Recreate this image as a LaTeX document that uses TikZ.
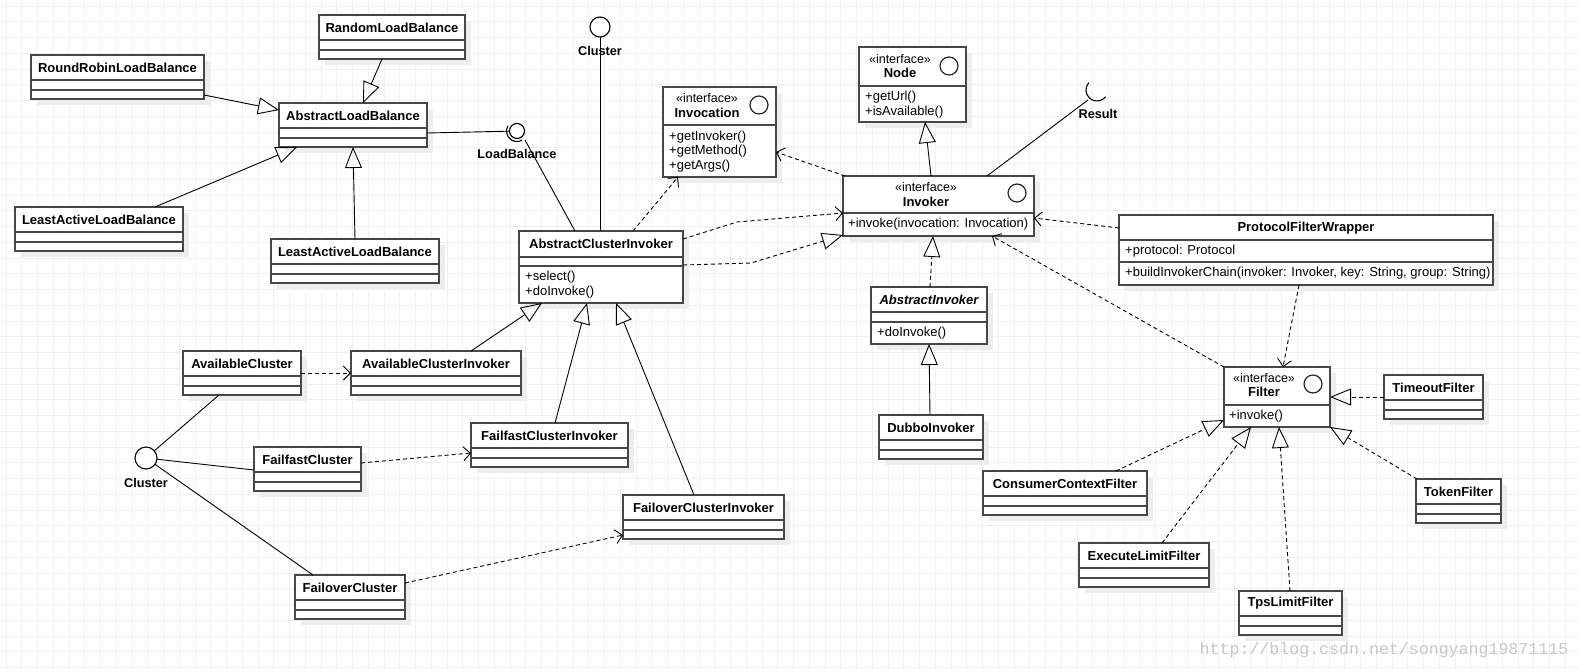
\documentclass[tikz,border=0pt]{standalone}
\usepackage{fontspec}
\setmainfont{Liberation Sans}
\newfontfamily\wmfont{Liberation Mono}
\usetikzlibrary{arrows.meta,calc,shadows}

\tikzset{
  cls/.style={rectangle, draw=black!72, line width=1.5pt, fill=white, inner sep=0pt, outer sep=0pt,
    drop shadow={shadow xshift=6pt, shadow yshift=-6pt, fill=black!7, opacity=1}},
  sep/.style={draw=black!72, line width=1.5pt},
  ttl/.style={font=\fontsize{13}{15}\selectfont\bfseries, inner sep=0pt},
  txt/.style={font=\fontsize{13}{15}\selectfont, inner sep=0pt, anchor=west},
  stereo/.style={font=\fontsize{12.5}{15}\selectfont, inner sep=0pt},
  gen/.style={draw=black, line width=0.9pt, -{Triangle[open, length=21pt, width=17pt, line width=0.9pt]}},
  real/.style={gen, dash pattern=on 4pt off 3pt},
  dep/.style={draw=black, line width=0.9pt, dash pattern=on 4pt off 3pt, -{Straight Barb[length=7pt, width=14pt, line width=0.9pt]}},
  assoc/.style={draw=black, line width=0.9pt},
  lolli/.style={circle, draw=black, line width=1.1pt, fill=white, inner sep=0pt, outer sep=0pt},
  icon/.style={circle, draw=black!85, line width=1.2pt, inner sep=0pt, minimum size=18pt},
  lbl/.style={font=\fontsize{12.7}{15}\selectfont\bfseries, inner sep=0pt},
  gridline/.style={draw=black!6, line width=0.7pt},
}

% simple class: name, x1, y1, x2, y2, title
\newcommand\sclass[6]{%
  \node[cls, anchor=north west, minimum width={#4-#2}, minimum height={#5-#3}] (#1) at (#2,#3) {};
  \draw[sep] ($(#1.north west)+(0,25)$) -- ($(#1.north east)+(0,25)$);
  \draw[sep] ($(#1.north west)+(0,35)$) -- ($(#1.north east)+(0,35)$);
  \node[ttl] (#1-t) at ($(#1.north)+(0,12.5)$) {#6};
}

\begin{document}
\begin{tikzpicture}[x=1pt,y=-1pt]
\useasboundingbox (0,0) rectangle (1579,670);
\fill[white] (0,0) rectangle (1579,670);
\foreach \i in {0,...,100} {\draw[gridline] (6+15.75*\i,0) -- (6+15.75*\i,670);}
\foreach \j in {0,...,43} {\draw[gridline] (0,6+15.75*\j) -- (1579,6+15.75*\j);}

% ---------- simple classes ----------
\sclass{RLB}{319}{15}{465}{59}{RandomLoadBalance}
\sclass{RRLB}{31}{55}{204}{99}{RoundRobinLoadBalance}
\sclass{ALB}{279}{103}{427}{147}{AbstractLoadBalance}
\sclass{LALBa}{15}{207}{183}{251}{LeastActiveLoadBalance}
\sclass{LALBb}{271}{239}{439}{283}{LeastActiveLoadBalance}
\sclass{AvC}{183}{351}{301}{395}{AvailableCluster}
\sclass{AvCI}{351}{351}{521}{395}{AvailableClusterInvoker}
\sclass{FfC}{254}{447}{361}{491}{FailfastCluster}
\sclass{FfCI}{471}{423}{628}{467}{FailfastClusterInvoker}
\sclass{FoCI}{623}{495}{784}{539}{FailoverClusterInvoker}
\sclass{FoC}{295}{575}{405}{619}{FailoverCluster}
\sclass{DI}{879}{415}{983}{459}{DubboInvoker}
\sclass{CCF}{983}{471}{1147}{515}{ConsumerContextFilter}
\sclass{ELF}{1079}{543}{1209}{587}{ExecuteLimitFilter}
\sclass{TLF}{1239}{591}{1342}{635}{TpsLimitFilter}
\sclass{TimeoutF}{1384}{375}{1483}{419}{TimeoutFilter}
\sclass{TokenF}{1416}{479}{1501}{523}{TokenFilter}

% ---------- AbstractClusterInvoker ----------
\node[cls, anchor=north west, minimum width=164, minimum height=72] (ACI) at (519,231) {};
\draw[sep] ($(ACI.north west)+(0,26)$) -- ($(ACI.north east)+(0,26)$);
\draw[sep] ($(ACI.north west)+(0,35)$) -- ($(ACI.north east)+(0,35)$);
\node[ttl] (ACI-t) at (601,244) {AbstractClusterInvoker};
\node[txt] (ACI-m1) at (525,277) {+select()};
\node[txt] (ACI-m2) at (525,292) {+doInvoke()};

% ---------- AbstractInvoker ----------
\node[cls, anchor=north west, minimum width=116, minimum height=57] (AI) at (871,287) {};
\draw[sep] ($(AI.north west)+(0,25)$) -- ($(AI.north east)+(0,25)$);
\draw[sep] ($(AI.north west)+(0,35)$) -- ($(AI.north east)+(0,35)$);
\node[ttl, font=\fontsize{13}{15}\selectfont\bfseries\itshape] (AI-t) at (929,300) {AbstractInvoker};
\node[txt] (AI-m1) at (877,333) {+doInvoke()};

% ---------- Invocation ----------
\node[cls, anchor=north west, minimum width=113, minimum height=90] (Invocation) at (663,87) {};
\draw[sep] ($(Invocation.north west)+(0,38)$) -- ($(Invocation.north east)+(0,38)$);
\node[stereo] (Invocation-s) at (707,98) {«interface»};
\node[ttl] (Invocation-t) at (707,113) {Invocation};
\node[icon] (Invocation-c) at (759,105) {};
\node[txt] (Invocation-m1) at (669,137) {+getInvoker()};
\node[txt] (Invocation-m2) at (669,151) {+getMethod()};
\node[txt] (Invocation-m3) at (669,166) {+getArgs()};

% ---------- Node ----------
\node[cls, anchor=north west, minimum width=107, minimum height=75] (Node) at (859,47) {};
\draw[sep] ($(Node.north west)+(0,39)$) -- ($(Node.north east)+(0,39)$);
\node[stereo] (Node-s) at (900,59) {«interface»};
\node[ttl] (Node-t) at (900,73) {Node};
\node[icon] (Node-c) at (949,66) {};
\node[txt] (Node-m1) at (865,97) {+getUrl()};
\node[txt] (Node-m2) at (865,112) {+isAvailable()};

% ---------- Invoker ----------
\node[cls, anchor=north west, minimum width=191, minimum height=60] (Invoker) at (843,176) {};
\draw[sep] ($(Invoker.north west)+(0,37)$) -- ($(Invoker.north east)+(0,37)$);
\node[stereo] (Invoker-s) at (926,187) {«interface»};
\node[ttl] (Invoker-t) at (926,202) {Invoker};
\node[icon] (Invoker-c) at (1017,193) {};
\node[txt] (Invoker-m1) at (848,224) {+invoke(invocation: Invocation)};

% ---------- ProtocolFilterWrapper ----------
\node[cls, anchor=north west, minimum width=374, minimum height=70] (PFW) at (1119,215) {};
\draw[sep] ($(PFW.north west)+(0,25)$) -- ($(PFW.north east)+(0,25)$);
\draw[sep] ($(PFW.north west)+(0,47)$) -- ($(PFW.north east)+(0,47)$);
\node[ttl] (PFW-t) at (1306,228) {ProtocolFilterWrapper};
\node[txt] (PFW-a1) at (1125,251) {+protocol: Protocol};
\node[txt] (PFW-m1) at (1125,273) {+buildInvokerChain(invoker: Invoker, key: String, group: String)};

% ---------- Filter ----------
\node[cls, anchor=north west, minimum width=106, minimum height=60] (Filter) at (1224,367) {};
\draw[sep] ($(Filter.north west)+(0,38)$) -- ($(Filter.north east)+(0,38)$);
\node[stereo] (Filter-s) at (1264,378) {«interface»};
\node[ttl] (Filter-t) at (1264,392) {Filter};
\node[icon] (Filter-c) at (1313,384) {};
\node[txt] (Filter-m1) at (1229,416) {+invoke()};

% ---------- lollipops ----------
\node[lolli, minimum size=20] (CT) at (600,27) {};
\node[lbl] (CT-l) at (600,51) {Cluster};
\node[lolli, minimum size=22] (CL) at (146,458) {};
\node[lbl] (CL-l) at (146,483) {Cluster};
\node[lolli, minimum size=15] (LB) at (517,131) {};
\draw[line width=1.1pt] (507.9,125.75) arc[start angle=-150, end angle=-300, radius=10.5];
\node[lbl] (LB-l) at (517,154) {LoadBalance};
\coordinate (Rs) at (1088,100);
\draw[line width=1.1pt] (1088.8,82.6) arc[start angle=-138, end angle=-322, radius=11];
\node[lbl] (Rs-l) at (1098,114) {Result};

% ---------- connectors ----------
\draw[gen] ($(RLB.south west)+(63,0)$) -- ($(ALB.north west)+(84,0)$);
\draw[gen] ($(RRLB.north west)+(173,40)$) -- ($(ALB.north west)+(0,7)$);
\draw[gen] ($(LALBa.north west)+(140,0)$) -- ($(ALB.north west)+(18,44)$);
\draw[gen] ($(LALBb.north west)+(84,0)$) -- ($(ALB.north west)+(74,44)$);
\draw[assoc] ($(ALB.north west)+(148,30)$) -- (LB);
\draw[assoc] ($(LB.center)+(8,9)$) -- ($(ACI.north west)+(56,0)$);
\draw[assoc] (CT) -- ($(ACI.north west)+(81,0)$);
\draw[dep] ($(ACI.north west)+(114,0)$) -- ($(Invocation.north west)+(15,90)$);
\draw[dep] ($(Invoker.north west)+(2,0)$) -- ($(Invocation.north west)+(113,65)$);
\draw[dep] ($(ACI.north west)+(164,8)$) -- ($(ACI.north east)+(54,-9)$) -- ($(Invoker.north west)+(0,37)$);
\draw[real] ($(ACI.north west)+(164,34)$) -- ($(ACI.north east)+(68,32)$) -- ($(Invoker.north west)+(0,59)$);
\draw[gen] ($(Invoker.north west)+(88,0)$) -- ($(Node.north west)+(66,75)$);
\draw[assoc] ($(Invoker.north west)+(144,0)$) -- (Rs);
\draw[real] ($(AI.north west)+(59,0)$) -- ($(Invoker.north west)+(90,60)$);
\draw[gen] ($(DI.north west)+(51,0)$) -- ($(AI.north west)+(58,57)$);
\draw[dep] ($(PFW.north west)+(0,13)$) -- ($(Invoker.north west)+(191,42)$);
\draw[dep] (Filter.north west) -- ($(Invoker.north west)+(149,60)$);
\draw[dep] ($(PFW.north west)+(180,70)$) -- ($(Filter.north west)+(59,0)$);
\draw[real] ($(TimeoutF.north west)+(0,22)$) -- ($(Filter.north west)+(106,30)$);
\draw[real] ($(CCF.north west)+(133,0)$) -- ($(Filter.north west)+(0,53)$);
\draw[real] ($(ELF.north west)+(83,0)$) -- ($(Filter.north west)+(27,60)$);
\draw[real] ($(TLF.north west)+(51,0)$) -- ($(Filter.north west)+(55,60)$);
\draw[real] ($(TokenF.north west)+(1,0)$) -- (Filter.south east);
\draw[dep] ($(AvC.north west)+(118,22)$) -- ($(AvCI.north west)+(0,22)$);
\draw[gen] ($(AvCI.north west)+(120,0)$) -- ($(ACI.north west)+(23,72)$);
\draw[dep] ($(FfC.north west)+(107,16)$) -- ($(FfCI.north west)+(0,30)$);
\draw[gen] ($(FfCI.north west)+(84,0)$) -- ($(ACI.north west)+(68,72)$);
\draw[gen] ($(FoCI.north west)+(71,0)$) -- ($(ACI.north west)+(97,72)$);
\draw[dep] ($(FoC.north west)+(110,8)$) -- ($(FoCI.north west)+(0,40)$);
\draw[assoc] (CL) -- ($(AvC.north west)+(36,44)$);
\draw[assoc] (CL) -- ($(FfC.north west)+(0,23)$);
\draw[assoc] (CL) -- ($(FoC.north west)+(18,0)$);

% ---------- watermark ----------
\node[inner sep=0pt, text=black!22, font=\wmfont\fontsize{16.6}{18}\selectfont] (wm) at (1384,650) {http://blog.csdn.net/songyang19871115};
\end{tikzpicture}
\end{document}
